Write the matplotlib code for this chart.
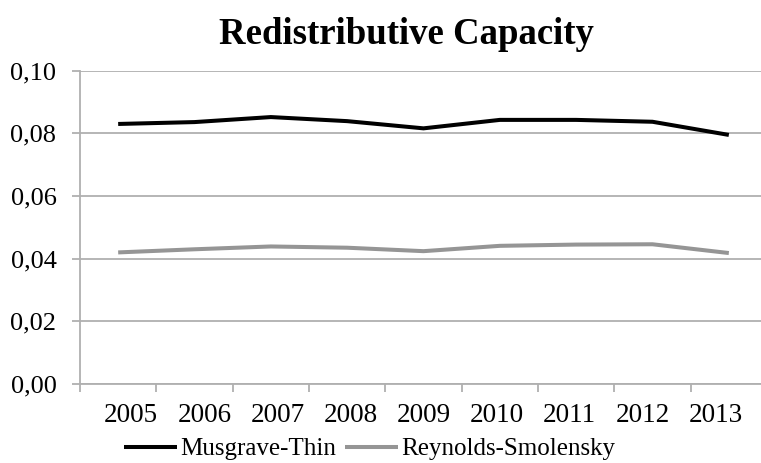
import matplotlib
matplotlib.use("Agg")
import matplotlib.pyplot as plt
import numpy as np

years = ["2005", "2006", "2007", "2008", "2009", "2010", "2011", "2012", "2013"]
musgrave_thin = [0.0830, 0.0836, 0.0852, 0.0839, 0.0816, 0.0843, 0.0843, 0.0837, 0.0795]
reynolds_smolensky = [0.0420, 0.0430, 0.0439, 0.0435, 0.0424, 0.0441, 0.0445, 0.0446, 0.0418]
y_ticks = [0.00, 0.02, 0.04, 0.06, 0.08, 0.10]

plt.rcParams["font.family"] = ["Liberation Serif", "DejaVu Serif"]

W, H = 761, 463
fig = plt.figure(figsize=(W / 100, H / 100), dpi=100)
ax = fig.add_axes([80 / W, 1 - 384 / H, 687 / W, (384 - 70.7) / H])

grid_col = "#b0b0b0"
x = np.arange(len(years))
ax.plot(x, musgrave_thin, color="black", lw=2.9, solid_capstyle="butt",
        solid_joinstyle="miter", label="Musgrave-Thin", zorder=3)
ax.plot(x, reynolds_smolensky, color="#959595", lw=2.9, solid_capstyle="butt",
        solid_joinstyle="miter", label="Reynolds-Smolensky", zorder=3)

ax.set_xlim(-0.5, len(years) - 0.5)
ax.set_ylim(0, 0.10)

ax.set_yticks(y_ticks)
ax.set_yticklabels([f"{v:.2f}".replace(".", ",") for v in y_ticks])
ax.yaxis.grid(True, color=grid_col, lw=1.3)
ax.set_axisbelow(True)

# category labels sit slightly drawn in toward the middle of the axis
mid = (len(years) - 1) / 2
label_pos = mid + (x - mid) * 0.957
ax.set_xticks(label_pos)
ax.set_xticklabels(years)
ax.set_xticks(np.arange(-0.5, len(years) + 0.5, 1), minor=True)
ax.tick_params(axis="x", which="major", length=0, pad=14, labelsize=19.5)
ax.tick_params(axis="x", which="minor", length=6, color=grid_col, width=1.3)
ax.tick_params(axis="y", which="major", length=6, color=grid_col, width=1.3,
               pad=11, labelsize=19)

for side in ("top", "right"):
    ax.spines[side].set_visible(False)
for side in ("left", "bottom"):
    ax.spines[side].set_color(grid_col)
    ax.spines[side].set_linewidth(1.3)

fig.text(406 / W, 1 - 35 / H, "Redistributive Capacity", ha="center", va="center",
         fontsize=26.5, fontweight="bold")

fig.legend(loc="center", bbox_to_anchor=(370 / W, 1 - 449 / H), ncol=2,
           frameon=False, fontsize=18, handlelength=2.1, handletextpad=0.15,
           columnspacing=0.35, borderpad=0, borderaxespad=0)

fig.savefig("out.png", dpi=100)
